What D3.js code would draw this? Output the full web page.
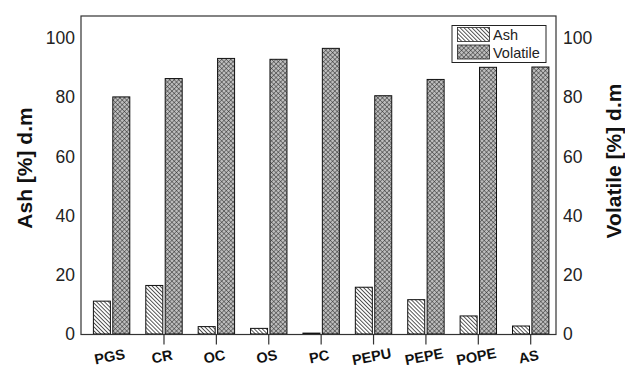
<!DOCTYPE html>
<html><head><meta charset="utf-8">
<script src="https://cdn.jsdelivr.net/npm/d3@7/dist/d3.min.js"></script>
<style>body{margin:0;background:#fff}svg{display:block}text{font-family:"Liberation Sans",Arial,sans-serif}</style>
</head><body><svg id="c" width="625" height="368"></svg>
<script>
const categories = ["PGS","CR","OC","OS","PC","PEPU","PEPE","POPE","AS"];
const ashValues = [11.1,16.4,2.5,1.9,0.3,15.8,11.6,6.1,2.7];
const volatileValues = [80.1,86.3,93.1,92.8,96.5,80.5,86.0,90.1,90.2];
const yTicks = [0,20,40,60,80,100];
const seriesNames = ["Ash","Volatile"];

const svg = d3.select("#c");
const L = 81, R = 556, T = 16, B = 334.5;
const x = d3.scalePoint().domain(categories).range([111.6, 530.7]);
const y = d3.scaleLinear().domain([0, 100]).range([334, 38]);
const barW = 17, gap = 1.2;

const defs = svg.append("defs");
const ph = defs.append("pattern").attr("id","hatch").attr("patternUnits","userSpaceOnUse")
  .attr("width",2.8).attr("height",2.8).attr("patternTransform","rotate(-45)");
ph.append("rect").attr("width",2.8).attr("height",2.8).attr("fill","#fff");
ph.append("line").attr("x1",0).attr("y1",0).attr("x2",0).attr("y2",2.8).attr("stroke","#111").attr("stroke-width",1.4);
const pc = defs.append("pattern").attr("id","cross").attr("patternUnits","userSpaceOnUse")
  .attr("width",3.2).attr("height",3.2).attr("patternTransform","rotate(45)");
pc.append("rect").attr("width",3.2).attr("height",3.2).attr("fill","#bdbdbd");
pc.append("line").attr("x1",0).attr("y1",0).attr("x2",0).attr("y2",3.2).attr("stroke","#222").attr("stroke-width",0.9);
pc.append("line").attr("x1",0).attr("y1",0).attr("x2",3.2).attr("y2",0).attr("stroke","#222").attr("stroke-width",0.9);

// bars
svg.append("g").selectAll("rect").data(categories).join("rect")
  .attr("x", d => x(d) - gap - barW).attr("width", barW)
  .attr("y", (d,i) => y(ashValues[i])).attr("height", (d,i) => y(0) - y(ashValues[i]))
  .attr("fill","url(#hatch)").attr("stroke","#111").attr("stroke-width",1);
svg.append("g").selectAll("rect").data(categories).join("rect")
  .attr("x", d => x(d) + gap).attr("width", barW)
  .attr("y", (d,i) => y(volatileValues[i])).attr("height", (d,i) => y(0) - y(volatileValues[i]))
  .attr("fill","url(#cross)").attr("stroke","#111").attr("stroke-width",1);

// frame
svg.append("rect").attr("x",L).attr("y",T).attr("width",R-L).attr("height",B-T)
  .attr("fill","none").attr("stroke","#333").attr("stroke-width",1.2);

// y axes
const yl = svg.append("g").attr("transform",`translate(${L},0)`)
  .call(d3.axisLeft(y).tickValues(yTicks).tickSize(0).tickPadding(6));
yl.select(".domain").remove();
yl.selectAll("text").attr("font-size",17.5).attr("fill","#222");
const yr = svg.append("g").attr("transform",`translate(${R},0)`)
  .call(d3.axisRight(y).tickValues(yTicks).tickSize(0).tickPadding(7));
yr.select(".domain").remove();
yr.selectAll("text").attr("font-size",17.5).attr("fill","#222");

// x axis ticks (no tick on first)
svg.append("g").selectAll("line").data(categories.slice(1)).join("line")
  .attr("x1", d => x(d)).attr("x2", d => x(d)).attr("y1", B).attr("y2", B + 10)
  .attr("stroke","#333").attr("stroke-width",1.2);
svg.append("g").selectAll("text").data(categories).join("text")
  .attr("transform", d => `translate(${x(d) - 1},${361.5}) rotate(-11)`)
  .attr("text-anchor","middle").attr("font-size",14.5).attr("font-weight","bold").attr("fill","#111")
  .text(d => d);

// axis titles
svg.append("text").attr("transform","translate(32,168) rotate(-90)").attr("text-anchor","middle")
  .attr("font-size",21).attr("font-weight","bold").attr("fill","#111").text("Ash [%] d.m");
svg.append("text").attr("transform","translate(621,161) rotate(-90)").attr("text-anchor","middle")
  .attr("font-size",21).attr("font-weight","bold").attr("fill","#111").text("Volatile [%] d.m");

// legend
const lg = svg.append("g");
lg.append("rect").attr("x",452).attr("y",25.5).attr("width",94).attr("height",37)
  .attr("fill","#fff").attr("stroke","#222").attr("stroke-width",1);
const fills = ["url(#hatch)","url(#cross)"];
seriesNames.forEach((s,i) => {
  lg.append("rect").attr("x",457.5).attr("y",27.5 + i*17.5).attr("width",32).attr("height",14)
    .attr("fill",fills[i]).attr("stroke","#222").attr("stroke-width",0.8);
  lg.append("text").attr("x",493).attr("y",40 + i*17.5).attr("font-size",14.5).attr("fill","#222").text(s);
});
</script></body></html>
